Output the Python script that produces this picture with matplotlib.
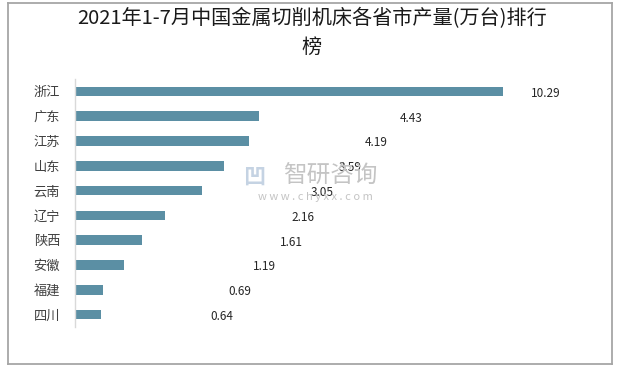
import matplotlib
matplotlib.use("Agg")
import matplotlib.pyplot as plt
from matplotlib.lines import Line2D

plt.rcParams['font.family'] = ['Noto Sans CJK SC', 'DejaVu Sans']

title = "2021年1-7月中国金属切削机床各省市产量(万台)排行\n榜"
provinces = ["浙江", "广东", "江苏", "山东", "云南", "辽宁", "陕西", "安徽", "福建", "四川"]
values = [10.29, 4.43, 4.19, 3.59, 3.05, 2.16, 1.61, 1.19, 0.69, 0.64]
value_labels = ["10.29", "4.43", "4.19", "3.59", "3.05", "2.16", "1.61", "1.19", "0.69", "0.64"]
# label placement (data units, horizontal centre of each value label)
label_x = [11.32, 8.08, 7.24, 6.62, 5.94, 5.49, 5.20, 4.57, 3.97, 3.53]

W, H = 629, 367
fig = plt.figure(figsize=(W / 100, H / 100), dpi=100)
fig.patch.set_facecolor("white")

# outer border
bc = "#a6a6a6"
x0, x1, y0, y1 = 7.5 / W, 611.5 / W, 1 - 2.5 / H, 1 - 364 / H
for xs, ys in [((x0, x1), (y0, y0)), ((x0, x1), (y1, y1)), ((x0, x0), (y0, y1)), ((x1, x1), (y0, y1))]:
    fig.add_artist(Line2D(xs, ys, transform=fig.transFigure, color=bc, lw=1.3))

fig.text(312 / W, 1 - 33 / H, title, ha="center", va="center", fontsize=14.5,
         fontweight="normal", color="#1a1a1a", linespacing=1.45)

left = 74.7 / W
top = 1 - 79 / H
bottom = 1 - 327 / H
xmax = 12.6
right = (74.7 + xmax * 41.6) / W
ax = fig.add_axes([left, bottom, right - left, top - bottom])

ypos = list(range(len(provinces)))
ax.barh(ypos, values, height=0.38, color="#5b8fa4", zorder=2)
ax.set_xlim(0, xmax)
ax.set_ylim(9.5, -0.5)
ax.set_yticks(ypos)
ax.set_yticklabels(provinces, fontsize=9.5, color="#404040")
ax.tick_params(axis="y", length=0, pad=10.5)
ax.set_xticks([])
for s in ["top", "right", "bottom"]:
    ax.spines[s].set_visible(False)
ax.spines["left"].set_color("#d9d9d9")
ax.spines["left"].set_linewidth(1)

for yi, lx, lab in zip(ypos, label_x, value_labels):
    ax.text(lx, yi + 0.08, lab, ha="center", va="center", fontsize=8.5, color="#262626", zorder=4)

# watermark
fig.text(254 / W, 1 - 177 / H, "凹", ha="center", va="center", fontsize=16,
         color="#c5d3e3", fontweight="bold", zorder=1)
fig.text(330 / W, 1 - 176 / H, "智研咨询", ha="center", va="center", fontsize=17,
         color="#c4c4c4", zorder=1)
fig.text(315 / W, 1 - 197 / H, "w w w . c h y x x . c o m", ha="center", va="center",
         fontsize=8, color="#c4c4c4", zorder=1)

fig.savefig("out.png", dpi=100, facecolor="white")
